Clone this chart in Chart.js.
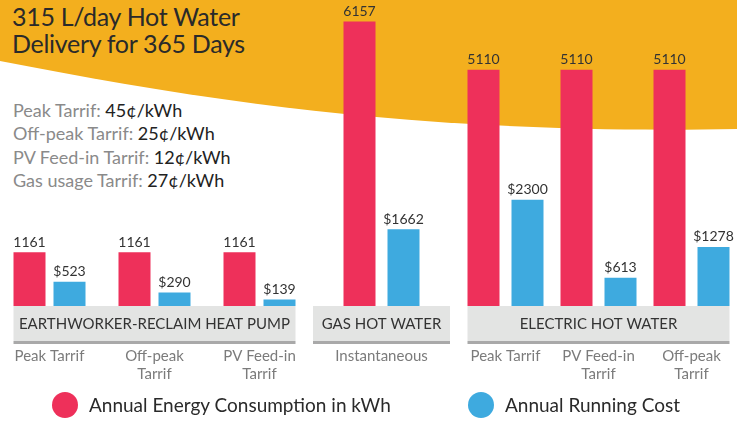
<!DOCTYPE html>
<html>
<head>
<meta charset="utf-8">
<script src="https://cdn.jsdelivr.net/npm/chart.js@4.4.0/dist/chart.umd.min.js"></script>
<style>
body { margin:0; width:737px; height:421px; overflow:hidden; background:#fff; position:relative; font-family: Lato, sans-serif; }
#bg { position:absolute; left:0; top:0; }
canvas.c { position:absolute; top:0; }
.title { position:absolute; left:12px; top:3px; font-size:25px; letter-spacing:-0.3px; line-height:27px; color:#2a2a2a; }
.tariffs { position:absolute; left:13px; top:99px; font-size:18px; line-height:23.3px; color:#222; }
.tariffs span { color:#8a8a8a; }
.legend { position:absolute; top:392px; left:0; }
.legend div { position:absolute; white-space:nowrap; font-size:19px; line-height:26px; color:#2a2a2a; }
.legend i { position:absolute; left:-37px; top:0; width:26px; height:26px; border-radius:50%; }
</style>
</head>
<body>
<svg id="bg" width="737" height="421">
  <path d="M0,0 H737 V129 C420,135 200,100 0,61 Z" fill="#f3af1e"/>
</svg>
<div class="title">315 L/day Hot Water<br>Delivery for 365 Days</div>
<div class="tariffs">
  <div><span>Peak Tarrif:</span> 45¢/kWh</div>
  <div><span>Off-peak Tarrif:</span> 25¢/kWh</div>
  <div><span>PV Feed-in Tarrif:</span> 12¢/kWh</div>
  <div><span>Gas usage Tarrif:</span> 27¢/kWh</div>
</div>
<canvas class="c" id="hp" width="315" height="400" style="left:-3px"></canvas>
<canvas class="c" id="gas" width="137" height="400" style="left:313px"></canvas>
<canvas class="c" id="elec" width="279" height="400" style="left:459px"></canvas>
<div class="legend" id="legend"></div>
<script>
// series
const seriesNames = ['Annual Energy Consumption in kWh', 'Annual Running Cost'];
const seriesColors = ['#ee305a', '#3eaadf'];
const groupNames = ['EARTHWORKER-RECLAIM HEAT PUMP', 'GAS HOT WATER', 'ELECTRIC HOT WATER'];

// heat pump
const heatPumpTariffs = ['Peak Tarrif', ['Off-peak', 'Tarrif'], ['PV Feed-in', 'Tarrif']];
const heatPumpEnergy = [1161, 1161, 1161];
const heatPumpCost = [523, 290, 139];

// gas
const gasTariffs = ['Instantaneous'];
const gasEnergy = [6157];
const gasCost = [1662];

// electric
const electricTariffs = ['Peak Tarrif', ['PV Feed-in', 'Tarrif'], ['Off-peak', 'Tarrif']];
const electricEnergy = [5110, 5110, 5110];
const electricCost = [2300, 613, 1278];

const yMax = 6620;

const groupPlugin = {
  id: 'group',
  afterDraw(chart) {
    let opts = chart.options.plugins.group;
    let ctx = chart.ctx;
    let area = chart.chartArea;
    ctx.save();
    // values above bars
    ctx.font = '14px Lato';
    ctx.fillStyle = '#333';
    ctx.textAlign = 'center';
    ctx.textBaseline = 'bottom';
    chart.data.datasets.forEach((ds, i) => {
      chart.getDatasetMeta(i).data.forEach((bar, j) => {
        ctx.fillText((i == 1 ? '$' : '') + ds.data[j], bar.x, bar.y - 3);
      });
    });
    // grey band under the group
    let x0 = area.left, x1 = area.right;
    if (opts.fitBars) {
      let first = chart.getDatasetMeta(0).data[0];
      let lastMeta = chart.getDatasetMeta(1).data;
      let last = lastMeta[lastMeta.length - 1];
      x0 = first.x - first.width / 2;
      x1 = last.x + last.width / 2;
    }
    let y0 = area.bottom;
    ctx.fillStyle = '#e3e4e3';
    ctx.fillRect(x0, y0, x1 - x0, 35);
    ctx.fillStyle = '#a9a9a9';
    ctx.fillRect(x0, y0 + 35, x1 - x0, 3);
    ctx.fillStyle = '#333';
    ctx.font = '15px Lato';
    ctx.textBaseline = 'middle';
    ctx.fillText(opts.name, (x0 + x1) / 2, y0 + 18);
    ctx.restore();
  }
};

function makeChart(id, labels, energy, cost, name, catPct, barPct, fitBars) {
  return new Chart(document.getElementById(id), {
    type: 'bar',
    data: {
      labels: labels,
      datasets: [
        { label: seriesNames[0], data: energy, backgroundColor: seriesColors[0] },
        { label: seriesNames[1], data: cost, backgroundColor: seriesColors[1] }
      ]
    },
    options: {
      responsive: false,
      animation: false,
      categoryPercentage: catPct,
      barPercentage: barPct,
      layout: { padding: 0 },
      scales: {
        y: { display: false, min: 0, max: yMax },
        x: {
          grid: { display: true, drawOnChartArea: false, color: 'rgba(0,0,0,0)', tickLength: 42 },
          border: { display: false },
          ticks: { color: '#7b7b7b', font: { family: 'Lato', size: 15, lineHeight: 1.15 }, padding: 0, maxRotation: 0, autoSkip: false },
          afterFit: s => { s.height = 94; }
        }
      },
      plugins: {
        legend: { display: false },
        tooltip: { enabled: false },
        group: { name: name, fitBars: fitBars }
      }
    },
    plugins: [groupPlugin]
  });
}

makeChart('hp', heatPumpTariffs, heatPumpEnergy, heatPumpCost, groupNames[0], 80 / 105, 0.8, true);
makeChart('gas', gasTariffs, gasEnergy, gasCost, groupNames[1], 88 / 137, 32 / 44, false);
makeChart('elec', electricTariffs, electricEnergy, electricCost, groupNames[2], 88 / 93, 32 / 44, true);

// legend
let legend = document.getElementById('legend');
let legendX = [89, 505];
seriesNames.forEach((n, i) => {
  let d = document.createElement('div');
  d.style.left = legendX[i] + 'px';
  d.innerHTML = '<i style="background:' + seriesColors[i] + '"></i>' + n;
  legend.appendChild(d);
});
</script>
</body>
</html>
